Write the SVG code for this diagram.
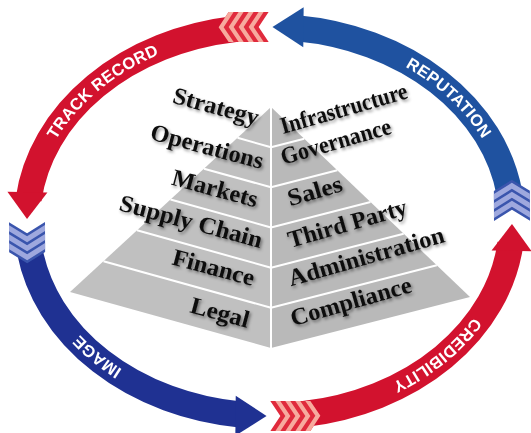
<svg xmlns="http://www.w3.org/2000/svg" width="531" height="433" viewBox="0 0 531 433">
  <defs>
    <style>
      .face-l { fill: #c0c0c0; }
      .face-r { fill: #b9b9b9; }
      .tier { stroke: #ffffff; stroke-width: 2; fill: none; }
      .lbl { font-family: "Liberation Serif", "Times New Roman", serif; font-weight: bold; font-size: 24px; fill: #111111; text-anchor: middle; }
      .ring-txt { font-family: "Liberation Sans", Arial, sans-serif; font-weight: bold; font-size: 16.5px; fill: #ffffff; letter-spacing: 0.2px; }
      .band { fill: none; stroke-width: 26; stroke-linecap: butt; }
      .red { fill: #d2122e; }
      .red-band { stroke: #d2122e; }
      .blue-a { fill: #1f52a0; }
      .blue-a-band { stroke: #1f52a0; }
      .blue-b { fill: #1f3192; }
      .blue-b-band { stroke: #1f3192; }
      .red-tail { fill: #e02a3c; }
      .red-stripe { fill: #f7aa9e; }
      .blue-tail { fill: #3a55ad; }
      .blue-stripe { fill: #9ea8de; }
    </style>
    <filter id="shadow" x="-10%" y="-10%" width="120%" height="120%">
      <feDropShadow dx="1.5" dy="2" stdDeviation="1.5" flood-color="#000000" flood-opacity="0.45"/>
    </filter>
    <!-- chevron tails, drawn in a local frame: x runs along the direction of travel -->
    <g id="tail-red">
      <polygon class="red-tail" points="0,-15 10,0 0,15 40,15 50,0 40,-15"/>
      <polygon class="red-stripe" points="5,-15 15,0 5,15 10,15 20,0 10,-15"/>
      <polygon class="red-stripe" points="15,-15 25,0 15,15 20,15 30,0 20,-15"/>
      <polygon class="red-stripe" points="25,-15 35,0 25,15 30,15 40,0 30,-15"/>
      <polygon class="red-stripe" points="35,-15 45,0 35,15 40,15 50,0 40,-15"/>
    </g>
    <g id="tail-blue">
      <polygon class="blue-tail" points="0,-18 11,0 0,18 30,18 41,0 30,-18"/>
      <polygon class="blue-stripe" points="3,-18 14,0 3,18 9,18 20,0 9,-18"/>
      <polygon class="blue-stripe" points="12,-18 23,0 12,18 18,18 29,0 18,-18"/>
      <polygon class="blue-stripe" points="21,-18 32,0 21,18 27,18 38,0 27,-18"/>
    </g>
    <!-- text baselines along the ring, running clockwise -->
    <path id="tp-track" d="M 44.80 161.90 A 236.8 188.8 0 0 1 182.33 45.96"/>
    <path id="tp-rep" d="M 370.70 50.81 A 236.8 188.8 0 0 1 498.55 173.59"/>
    <path id="tp-cred" d="M 493.53 282.66 A 236.8 188.8 0 0 1 354.75 397.64"/>
    <path id="tp-image" d="M 181.18 396.68 A 236.8 188.8 0 0 1 44.42 280.16"/>
  </defs>

  <rect width="531" height="433" fill="#ffffff"/>

  <!-- pyramid -->
  <g id="pyramid">
    <polygon class="face-l" points="271,107 70,292 271,348"/>
    <polygon class="face-r" points="271,107 470,297 271,348"/>
    <line class="tier" x1="237.5" y1="137.8" x2="271" y2="147.2"/>
    <line class="tier" x1="204" y1="168.7" x2="271" y2="187.3"/>
    <line class="tier" x1="170.5" y1="199.5" x2="271" y2="227.5"/>
    <line class="tier" x1="137" y1="230.3" x2="271" y2="267.7"/>
    <line class="tier" x1="103.5" y1="261.2" x2="271" y2="307.8"/>
    <line class="tier" x1="304.2" y1="138.7" x2="271" y2="147.2"/>
    <line class="tier" x1="337.3" y1="170.3" x2="271" y2="187.3"/>
    <line class="tier" x1="370.5" y1="202" x2="271" y2="227.5"/>
    <line class="tier" x1="403.7" y1="233.7" x2="271" y2="267.7"/>
    <line class="tier" x1="436.8" y1="265.3" x2="271" y2="307.8"/>
    <line class="tier" x1="271" y1="107" x2="271" y2="348"/>
  </g>

  <!-- tier labels -->
  <g id="labels" filter="url(#shadow)">
    <g id="lbl-strategy" transform="translate(214,114) rotate(15)"><text class="lbl" textLength="88" lengthAdjust="spacingAndGlyphs">Strategy</text></g>
    <g id="lbl-operations" transform="translate(205,154) rotate(15)"><text class="lbl" textLength="116" lengthAdjust="spacingAndGlyphs">Operations</text></g>
    <g id="lbl-markets" transform="translate(213,196) rotate(15)"><text class="lbl" textLength="88" lengthAdjust="spacingAndGlyphs">Markets</text></g>
    <g id="lbl-supply" transform="translate(189,229) rotate(15)"><text class="lbl" textLength="147" lengthAdjust="spacingAndGlyphs">Supply Chain</text></g>
    <g id="lbl-finance" transform="translate(211.5,275) rotate(15)"><text class="lbl" textLength="84" lengthAdjust="spacingAndGlyphs">Finance</text></g>
    <g id="lbl-legal" transform="translate(218,320) rotate(15)"><text class="lbl" textLength="60" lengthAdjust="spacingAndGlyphs">Legal</text></g>
    <g id="lbl-infrastructure" transform="translate(346,116) rotate(-16)"><text class="lbl" textLength="131" lengthAdjust="spacingAndGlyphs">Infrastructure</text></g>
    <g id="lbl-governance" transform="translate(338,149) rotate(-16)"><text class="lbl" textLength="114" lengthAdjust="spacingAndGlyphs">Governance</text></g>
    <g id="lbl-sales" transform="translate(317,198.5) rotate(-16)"><text class="lbl" textLength="56" lengthAdjust="spacingAndGlyphs">Sales</text></g>
    <g id="lbl-third" transform="translate(349.5,231) rotate(-16)"><text class="lbl" textLength="123" lengthAdjust="spacingAndGlyphs">Third Party</text></g>
    <g id="lbl-admin" transform="translate(368.5,264) rotate(-16)"><text class="lbl" textLength="161" lengthAdjust="spacingAndGlyphs">Administration</text></g>
    <g id="lbl-compliance" transform="translate(353,309) rotate(-16)"><text class="lbl" textLength="125" lengthAdjust="spacingAndGlyphs">Compliance</text></g>
  </g>

  <!-- cycle of four curved arrows -->
  <g id="connectors">
    <g id="arrow-track-record">
      <path class="band red-band" d="M 234.91 28.99 A 242.5 194.5 0 0 0 28.56 199.48"/>
      <use href="#tail-red" transform="translate(268.65,27.0) rotate(179.84)"/>
      <polygon class="red" points="0,0 -27,-20 -27,20" transform="translate(27.02,219.12) rotate(90.87)"/>
      <text class="ring-txt"><textPath href="#tp-track" startOffset="50%" text-anchor="middle">TRACK RECORD</textPath></text>
    </g>
    <g id="arrow-image">
      <path class="band blue-b-band" d="M 29.48 249.24 A 242.5 194.5 0 0 0 242.05 414.75"/>
      <use href="#tail-blue" transform="translate(27.0,222.18) rotate(89.75)"/>
      <polygon class="blue-b" points="0,0 -31,-20 -31,20" transform="translate(266.54,415.99) rotate(0.56)"/>
      <text class="ring-txt"><textPath href="#tp-image" startOffset="50%" text-anchor="middle">IMAGE</textPath></text>
    </g>
    <g id="arrow-credibility">
      <path class="band red-band" d="M 304.09 414.01 A 242.5 194.5 0 0 0 510.44 243.52"/>
      <use href="#tail-red" transform="translate(270.35,416.0) rotate(-0.16)"/>
      <polygon class="red" points="0,0 -27,-20 -27,20" transform="translate(511.98,223.88) rotate(-89.13)"/>
      <text class="ring-txt"><textPath href="#tp-cred" startOffset="50%" text-anchor="middle">CREDIBILITY</textPath></text>
    </g>
    <g id="arrow-reputation">
      <path class="band blue-a-band" d="M 509.52 193.76 A 242.5 194.5 0 0 0 296.95 28.25"/>
      <use href="#tail-blue" transform="translate(512.0,220.82) rotate(-90.25)"/>
      <polygon class="blue-a" points="0,0 -31,-20 -31,20" transform="translate(272.46,27.01) rotate(180.56)"/>
      <text class="ring-txt"><textPath href="#tp-rep" startOffset="50%" text-anchor="middle">REPUTATION</textPath></text>
    </g>
  </g>
</svg>
